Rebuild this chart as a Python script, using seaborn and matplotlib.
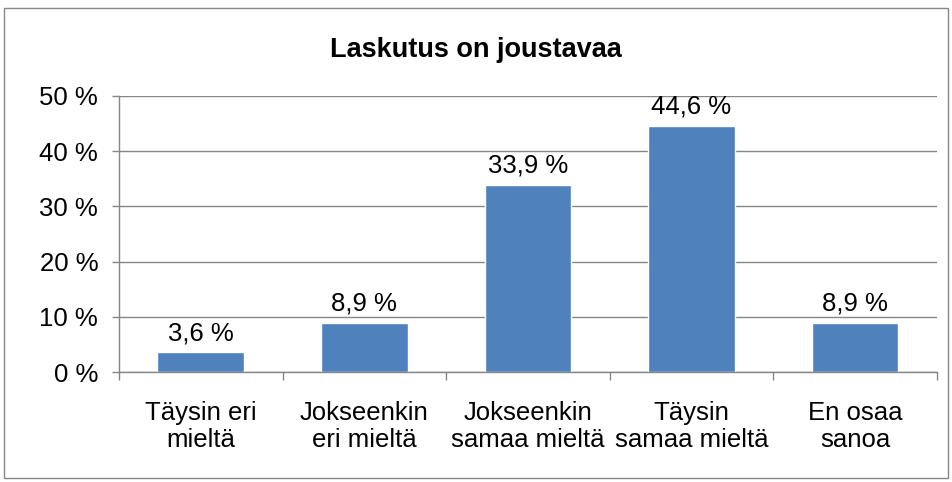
import matplotlib
matplotlib.use("Agg")
import matplotlib.pyplot as plt
import seaborn as sns
import pandas as pd
import numpy as np
from matplotlib.patches import Rectangle

categories = ["Täysin eri\nmieltä", "Jokseenkin\neri mieltä", "Jokseenkin\nsamaa mieltä",
              "Täysin\nsamaa mieltä", "En osaa\nsanoa"]
values = [3.6, 8.9, 33.9, 44.6, 8.9]
labels = ["3,6 %", "8,9 %", "33,9 %", "44,6 %", "8,9 %"]
yticks = [0, 10, 20, 30, 40, 50]
ytick_labels = ["0 %", "10 %", "20 %", "30 %", "40 %", "50 %"]

sns.set_style("white")
plt.rcParams['font.family'] = ['Liberation Sans', 'DejaVu Sans']
plt.rcParams['text.color'] = 'black'
plt.rcParams['xtick.labelcolor'] = 'black'
plt.rcParams['ytick.labelcolor'] = 'black'

df = pd.DataFrame({"cat": categories, "val": values})

fig = plt.figure(figsize=(9.52, 4.82), dpi=100)
ax = fig.add_axes([0.125, 0.228, 0.859, 0.573])

sns.barplot(data=df, x="cat", y="val", color="#4F81BD", saturation=1, width=0.53, ax=ax)

grid_col = "#868686"
fs = 18.5
ax.set_ylim(0, 50)
ax.set_xlim(-0.5, len(categories) - 0.5)
ax.set_yticks(yticks)
ax.set_yticklabels(ytick_labels, fontsize=fs, color="black")
ax.yaxis.grid(True, color=grid_col, linewidth=1)
ax.set_axisbelow(True)
ax.tick_params(axis="y", length=5, color=grid_col, width=1, pad=10, direction="out", left=True)

ax.set_xticks(range(len(categories)))
ax.set_xticklabels(categories, fontsize=fs, linespacing=1.12, color="black")
ax.tick_params(axis="x", which="major", length=0, pad=21)
ax.set_xticks(np.arange(-0.5, len(categories)), minor=True)
ax.tick_params(axis="x", which="minor", length=6, color=grid_col, width=1, bottom=True, direction="out")

for side in ["top", "right"]:
    ax.spines[side].set_visible(False)
for side in ["left", "bottom"]:
    ax.spines[side].set_color(grid_col)
    ax.spines[side].set_linewidth(1)

ax.set_xlabel("")
ax.set_ylabel("")

for i, (v, t) in enumerate(zip(values, labels)):
    ax.annotate(t, (i, v), xytext=(0, 5), textcoords="offset points",
                ha="center", va="bottom", fontsize=fs, color="black")

fig.text(0.5, 0.897, "Laskutus on joustavaa", ha="center", va="center",
         fontsize=19.5, fontweight="bold", color="black")

fig.patches.append(Rectangle((0.004, 0.008), 0.992, 0.975, transform=fig.transFigure,
                             fill=False, edgecolor="#868686", linewidth=1))

fig.savefig("out.png", dpi=100)
